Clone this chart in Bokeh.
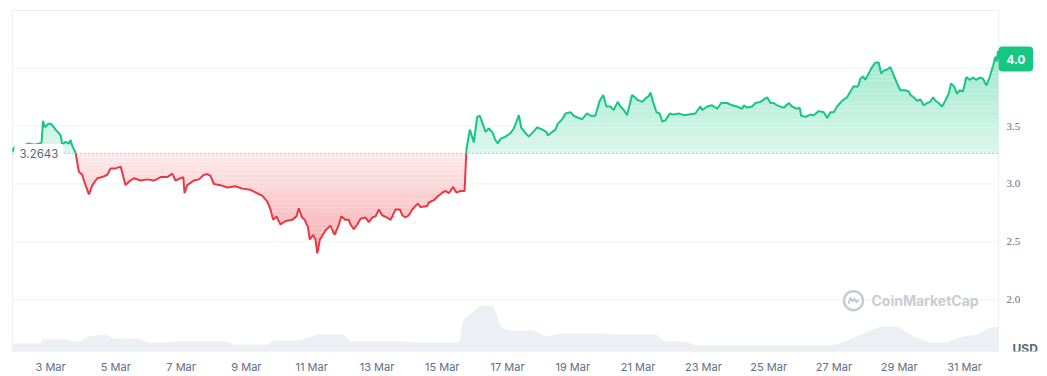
import numpy as np
from bokeh.plotting import figure
from bokeh.models import Range1d, FixedTicker, Label
from bokeh.embed import file_html
from bokeh.resources import INLINE

# ---- data (hours since 1 Mar 00:00, price in USD) ----
hours = [20.1, 21.0, 23.0, 27.4, 31.8, 36.2, 39.9, 41.4, 42.4, 43.8, 46.5, 48.4, 51.7, 55.4, 56.6,
         59.0, 61.5, 62.7, 63.9, 66.4, 68.8, 71.3, 72.5, 73.7, 76.2, 78.7, 82.3, 86.0, 89.7, 92.1,
         95.8, 99.5, 100.7, 103.1, 105.6, 109.2, 114.2, 119.1, 124.0, 128.9, 133.8, 137.5, 139.9,
         143.6, 145.6, 146.5, 148.5, 153.3, 157.0, 160.7, 163.2, 165.6, 168.1, 173.0, 177.9, 184.0,
         188.9, 195.0, 199.9, 203.6, 207.3, 209.7, 211.7, 214.1, 217.1, 220.8, 225.7, 228.8, 230.5,
         233.0, 234.9, 237.2, 238.6, 241.1, 242.8, 244.1, 246.0, 250.2, 253.8, 256.8, 260.0, 261.7,
         264.9, 267.3, 268.5, 271.0, 273.5, 275.9, 279.6, 282.0, 284.5, 286.9, 289.4, 291.8, 295.5,
         298.0, 301.6, 304.8, 306.6, 309.0, 311.4, 313.9, 318.0, 320.0, 324.9, 326.1, 329.8, 332.3,
         336.0, 338.4, 340.8, 344.0, 346.5, 349.4, 352.4, 353.8, 356.3, 359.2, 361.7, 363.6, 365.4,
         367.8, 370.2, 372.7, 375.1, 376.8, 378.8, 382.5, 386.2, 388.6, 390.6, 392.3, 394.0, 397.2,
         399.6, 402.1, 405.8, 409.5, 412.6, 413.6, 416.8, 419.2, 420.9, 424.2, 426.6, 430.3, 432.7,
         436.4, 438.9, 442.5, 445.0, 448.6, 451.8, 454.3, 456.7, 459.6, 462.1, 465.0, 467.0, 469.5,
         471.9, 475.6, 479.3, 483.0, 485.4, 487.8, 489.1, 491.0, 493.5, 495.9, 497.7, 500.1, 503.3,
         506.2, 509.9, 513.6, 517.2, 522.2, 525.8, 527.1, 530.8, 534.4, 538.1, 541.1, 545.5, 549.1,
         552.8, 556.5, 557.7, 560.2, 563.8, 566.3, 570.0, 574.9, 577.3, 579.7, 582.2, 587.1, 590.8,
         593.2, 596.9, 598.8, 599.9, 603.0, 606.7, 609.1, 612.8, 616.5, 619.0, 621.4, 623.8, 626.3,
         629.3, 631.2, 633.7, 636.1, 638.5, 641.0, 642.2, 643.4, 645.4, 647.1, 649.5, 652.0, 654.5,
         656.9, 658.7, 660.6, 663.1, 665.5, 667.9, 670.4, 672.8, 676.5, 679.0, 680.2, 682.6, 685.1,
         687.6, 690.0, 692.5, 694.9, 696.9, 698.6, 701.0, 703.5, 705.9, 708.4, 710.1, 712.5, 714.5,
         716.4, 718.9, 721.4, 723.8, 726.3, 728.7, 731.2, 733.6, 736.1, 738.5, 741.0, 742.7, 743.9,
         744.6, 745.0]
prices = [3.28, 3.31, 3.33, 3.33, 3.35, 3.34, 3.35, 3.36, 3.546, 3.49, 3.52, 3.52, 3.47, 3.42, 3.34,
          3.365, 3.35, 3.38, 3.33, 3.27, 3.106, 3.08, 3.03, 2.99, 2.91, 2.99, 3.05, 3.06, 3.08, 3.135,
          3.135, 3.15, 3.10, 2.99, 3.02, 3.05, 3.03, 3.04, 3.03, 3.06, 3.06, 3.09, 3.03,
          3.05, 3.06, 2.92, 2.99, 3.03, 3.04, 3.08, 3.085, 3.07, 3.00, 2.99, 2.97, 2.98,
          2.96, 2.95, 2.92, 2.90, 2.85, 2.78, 2.69, 2.72, 2.65, 2.68, 2.69, 2.72, 2.79,
          2.71, 2.69, 2.63, 2.52, 2.56, 2.52, 2.40, 2.52, 2.60, 2.64, 2.56, 2.65, 2.72,
          2.69, 2.69, 2.65, 2.61, 2.65, 2.70, 2.71, 2.67, 2.71, 2.72, 2.78, 2.73, 2.71,
          2.69, 2.78, 2.78, 2.73, 2.71, 2.73, 2.78, 2.83, 2.80, 2.81, 2.84, 2.86, 2.89,
          2.925, 2.94, 2.92, 2.975, 2.925, 2.94, 2.94, 3.30, 3.47, 3.36, 3.58, 3.59, 3.53,
          3.45, 3.48, 3.45, 3.38, 3.35, 3.39, 3.41, 3.44, 3.48, 3.54, 3.595, 3.49, 3.44,
          3.41, 3.44, 3.49, 3.47, 3.45, 3.42, 3.45, 3.47, 3.52, 3.56, 3.61, 3.62, 3.59,
          3.57, 3.56, 3.61, 3.59, 3.59, 3.72, 3.77, 3.67, 3.67, 3.64, 3.71, 3.67, 3.64,
          3.595, 3.77, 3.73, 3.71, 3.74, 3.76, 3.79, 3.71, 3.62, 3.61, 3.54, 3.55, 3.61,
          3.60, 3.61, 3.595, 3.60, 3.61, 3.67, 3.64, 3.67, 3.68, 3.65, 3.70, 3.70, 3.68,
          3.67, 3.65, 3.68, 3.66, 3.67, 3.70, 3.71, 3.75, 3.70, 3.70, 3.68, 3.66, 3.70,
          3.67, 3.65, 3.66, 3.59, 3.58, 3.60, 3.595, 3.63, 3.62, 3.57, 3.62, 3.62, 3.67,
          3.71, 3.73, 3.75, 3.80, 3.845, 3.84, 3.86, 3.91, 3.93, 3.90, 3.955, 4.01, 4.05,
          4.05, 3.955, 3.98, 3.99, 4.01, 3.94, 3.87, 3.81, 3.81, 3.80, 3.77, 3.75, 3.72,
          3.73, 3.68, 3.70, 3.71, 3.75, 3.72, 3.70, 3.67, 3.72, 3.78, 3.87, 3.84, 3.78,
          3.81, 3.80, 3.925, 3.90, 3.92, 3.90, 3.92, 3.91, 3.85, 3.925, 4.02, 4.10, 4.06,
          4.15, 4.08]

vol_hours = [20.0, 40.7, 42.1, 60.5, 62.7, 70.1, 75.2, 88.4, 94.3, 114.2, 119.3, 134.0, 138.4,
             178.1, 182.5, 207.5, 212.0, 231.8, 244.3, 263.4, 268.5, 305.3, 320.0, 348.7, 351.6,
             358.2, 364.1, 373.0, 374.4, 378.8, 384.7, 403.1, 411.9, 424.4, 453.9, 460.4, 493.5,
             499.4, 514.1, 523.0, 619.2, 628.1, 640.5, 658.2, 670.7, 682.4, 694.2, 706.7, 718.5,
             730.3, 736.8, 745.0]
volume_musd = [80, 80, 120, 120, 100, 100, 150, 170, 130, 130, 90, 90, 100,
               100, 70, 70, 110, 110, 170, 170, 100, 100, 90, 90, 320,
               390, 460, 460, 420, 250, 210, 210, 150, 180, 180, 170, 170,
               100, 100, 60, 60, 80, 150, 250, 250, 150, 90, 90, 150,
               170, 230, 250]

BASE = 3.2643
tick_days = [3, 5, 7, 9, 11, 13, 15, 17, 19, 21, 23, 25, 27, 29, 31]
tick_labels = [f"{d} Mar" for d in tick_days]
y_ticks = [2.0, 2.5, 3.0, 3.5, 4.0]

# data window (chart area) and page geometry
X_START, X_END = 20.0, 745.0
Y_START, Y_END = 1.552, 4.5
W, H, AXIS_H = 1047, 376, 24
PX_L, PX_R, PX_T = 12, 998, 10
hpp = (X_END - X_START) / (PX_R - PX_L)
vpp = (Y_END - Y_START) / (H - AXIS_H - PX_T)

GREEN = "#16c784"
RED = "#ea3943"
TXT = "#616e85"
GRID = "#eff2f5"

p = figure(width=W, height=H,
           x_range=Range1d(X_START - PX_L * hpp, X_START + (W - PX_L) * hpp),
           y_range=Range1d(Y_START, Y_END + PX_T * vpp),
           y_axis_location=None, output_backend="svg", toolbar_location=None,
           min_border_left=0, min_border_right=0, min_border_top=0, min_border_bottom=AXIS_H)
p.outline_line_color = None
p.xgrid.grid_line_color = None
p.ygrid.grid_line_color = None

# chart box and horizontal grid
p.segment(x0=X_START, x1=X_END, y0=y_ticks, y1=y_ticks, line_color=GRID, line_width=1)
p.quad(left=X_START, right=X_END, bottom=Y_START, top=Y_END, fill_color=None,
       line_color="#eceff3", line_width=1)

# volume
p.extra_y_ranges = {"vol": Range1d(0, (H - AXIS_H) * 10)}
p.varea(x=vol_hours, y1=0, y2=volume_musd, y_range_name="vol", fill_color="#eceff3")

# insert baseline crossings
t = np.array(hours, dtype=float)
pr = np.array(prices, dtype=float)
xs, ys = [t[0]], [pr[0]]
for i in range(1, len(t)):
    a, b = pr[i - 1] - BASE, pr[i] - BASE
    if a * b < 0:
        f = a / (a - b)
        xs.append(t[i - 1] + f * (t[i] - t[i - 1]))
        ys.append(BASE)
    xs.append(t[i])
    ys.append(pr[i])
xs = np.array(xs)
ys = np.array(ys)


def blend(hexc, a):
    rgb = [int(hexc[k:k + 2], 16) for k in (1, 3, 5)]
    return "#%02x%02x%02x" % tuple(int(round(255 - a * (255 - c))) for c in rgb)


n = 24
top = ys.max()
for i in range(n):
    lo = BASE + (top - BASE) * i / n
    hi = BASE + (top - BASE) * (i + 1) / n
    a = 0.15 + 0.27 * (i + 0.5) / n
    p.varea(x=xs, y1=lo, y2=np.clip(ys, lo, hi), fill_color=blend(GREEN, a))
bot = ys.min()
for i in range(n):
    hi = BASE - (BASE - bot) * i / n
    lo = BASE - (BASE - bot) * (i + 1) / n
    a = 0.10 + 0.32 * (i + 0.5) / n
    p.varea(x=xs, y1=hi, y2=np.clip(ys, lo, hi), fill_color=blend(RED, a))

g = np.where(ys >= BASE, ys, np.nan)
r = np.where(ys <= BASE, ys, np.nan)
p.line(xs, r, line_color=RED, line_width=2)
p.line(xs, g, line_color=GREEN, line_width=2)

# opening-price reference line
p.segment(x0=[X_START], x1=[X_END], y0=[BASE], y1=[BASE], line_color="#8f96a1",
          line_dash="1 3", line_width=1)

# x axis
tick_pos = [(d - 1) * 24 for d in tick_days]
p.xaxis.ticker = FixedTicker(ticks=tick_pos)
p.xaxis.major_label_overrides = {tp: lab for tp, lab in zip(tick_pos, tick_labels)}
p.xaxis.axis_line_color = None
p.xaxis.major_tick_line_color = None
p.xaxis.minor_tick_line_color = None
p.xaxis.major_tick_out = 0
p.xaxis.major_tick_in = 0
p.xaxis.minor_tick_out = 0
p.xaxis.minor_tick_in = 0
p.xaxis.major_label_text_font = "Inter"
p.xaxis.major_label_text_font_size = "11px"
p.xaxis.major_label_text_color = TXT
p.xaxis.major_label_standoff = 8

# y tick labels on the right of the chart box (the one under the price badge is hidden)
last = prices[-1]
shown = [v for v in y_ticks if abs(v - last) > 12 * vpp]
p.text(x=[X_END] * len(shown), y=shown, text=[f"{v:.1f}" for v in shown], x_offset=8,
       text_font="Inter", text_font_size="11px", text_color=TXT, text_baseline="middle")

# watermark
p.scatter([X_END - 145 * hpp], [2.0 - 1 * vpp], size=19, marker="circle", fill_color=None,
          line_color="#c8cdd5", line_width=2.5)
wx = [-5, -3, -1, 1, 3, 5]
wy = [-3, 3, -1, 2, -2, 1]
p.line([X_END - 145 * hpp + dx * hpp for dx in wx], [2.0 - 1 * vpp + dy * vpp for dy in wy],
       line_color="#c8cdd5", line_width=2)
p.add_layout(Label(x=X_END, y=2.0, x_offset=-127, y_offset=-1, text="CoinMarketCap",
                   text_font="Inter", text_font_size="14px", text_font_style="bold",
                   text_color="#c8cdd5", text_baseline="middle"))

# start price label
p.add_layout(Label(x=X_START, y=BASE, x_offset=2, text=f"{BASE}", text_font="Inter",
                   text_font_size="11.5px", text_color="#58667e", text_baseline="middle",
                   background_fill_color="white", padding=5, level="overlay"))

# last price badge
p.add_layout(Label(x=X_END, y=last, x_offset=0, text=f"{np.floor(last * 10) / 10:.1f}",
                   text_font="Inter", text_font_size="11.5px", text_font_style="bold",
                   text_color="white", text_baseline="middle", background_fill_color=GREEN,
                   padding=8, border_radius=4, level="overlay"))

# currency label
p.add_layout(Label(x=X_END, y=Y_START, x_offset=14, y_offset=3, text="USD", text_font="Inter",
                   text_font_size="12px", text_font_style="bold", text_color="#58667e",
                   text_baseline="middle", level="overlay"))

open("out.html", "w").write(file_html(p, INLINE))
